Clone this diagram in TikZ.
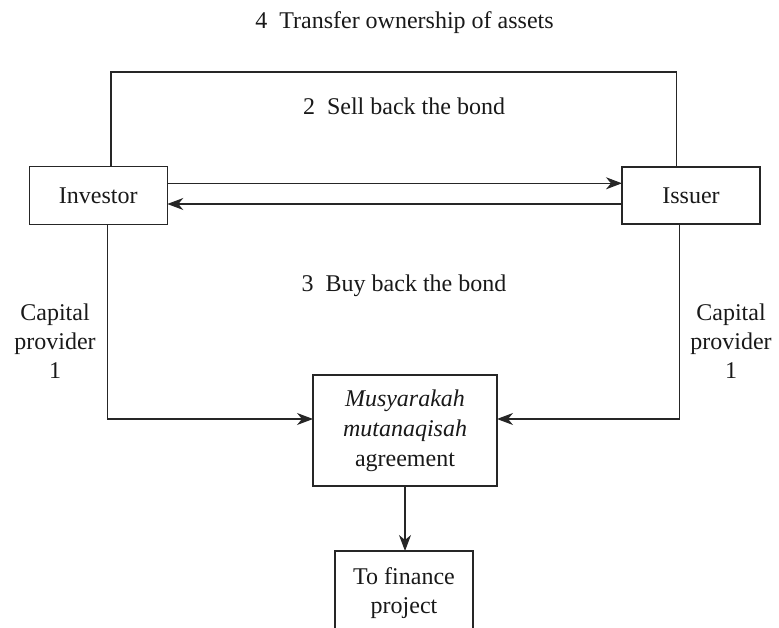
\documentclass[tikz,border=0pt]{standalone}
\usepackage{fontspec}
\setmainfont{Liberation Serif}
\usetikzlibrary{arrows.meta}
\begin{document}
\begin{tikzpicture}[x=1pt,y=-1pt,
  every node/.style={font=\fontsize{24}{30}\selectfont, text=black!90, inner sep=0pt, outer sep=0pt},
  box/.style={draw=black!85, line width=1.1pt, align=center},
  txt/.style={align=center},
  ln/.style={draw=black!85, line width=1.1pt},
  arr/.style={ln, -{Stealth[length=16pt,width=12pt,inset=5pt]}}]
\path[use as bounding box] (0,0) rectangle (779,628);

% boxes
\node[box, minimum width=138pt, minimum height=58pt] (inv) at (98.3,195.7) {Investor};
\node[box, minimum width=138pt, minimum height=57pt] (iss) at (691,195.5) {Issuer};
\node[box, minimum width=184pt, minimum height=111pt] (mus) at (405,430.5) {\textit{Musyarakah}\\\textit{mutanaqisah}\\agreement};
\node[txt, minimum width=138pt, minimum height=84pt, font=\fontsize{24}{29}\selectfont] (fin) at (404,593) {To finance\\project};
\draw[ln] (fin.south west) -- (fin.north west) -- (fin.north east) -- (fin.south east);

% labels
\node[anchor=base] (t4) at (404.5,29) {4\enspace Transfer ownership of assets};
\node[anchor=base] (t2) at (404,115) {2\enspace Sell back the bond};
\node[anchor=base] (t3) at (404,291.5) {3\enspace Buy back the bond};
\node[txt, font=\fontsize{24}{29.3}\selectfont] (capl) at (55,341) {Capital\\provider\\1};
\node[txt, font=\fontsize{24}{29.3}\selectfont] (capr) at (731,341) {Capital\\provider\\1};

% connectors
\coordinate (tl) at (111,72);
\coordinate (tr) at (676.5,72);
\draw[ln] (inv.north -| tl) -- (tl) -- (tr) -- (iss.north -| tr);

\coordinate (a1) at (0,183.3);
\coordinate (a2) at (0,204);
\draw[arr] (inv.east |- a1) -- (iss.west |- a1);
\draw[arr] (iss.west |- a2) -- (inv.east |- a2);

\coordinate (bl) at (107.5,419);
\coordinate (br) at (679.5,419);
\draw[arr] (inv.south -| bl) -- (bl) -- (mus.west |- bl);
\draw[arr] (iss.south -| br) -- (br) -- (mus.east |- br);

\draw[arr] (mus.south) -- (mus.south |- fin.north);
\end{tikzpicture}
\end{document}
